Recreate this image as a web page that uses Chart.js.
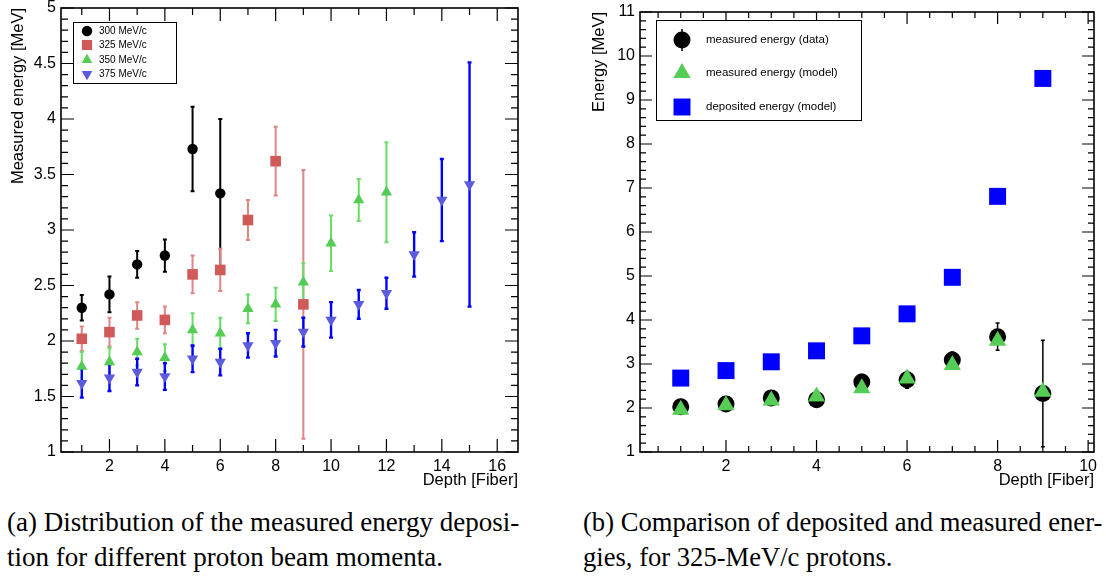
<!DOCTYPE html>
<html>
<head>
<meta charset="utf-8">
<script src="https://cdn.jsdelivr.net/npm/chart.js@4"></script>
<style>
  body { margin: 0; background: #fff; width: 1106px; height: 577px; overflow: hidden; position: relative; }
  #chartA { position: absolute; left: 0; top: 0; }
  #chartB { position: absolute; left: 560px; top: 0; }
  .cap { position: absolute; top: 505px; font-family: "Liberation Serif", "Times New Roman", serif;
         font-size: 27px; line-height: 35px; white-space: nowrap; color: #000; }
</style>
</head>
<body>
<canvas id="chartA" width="540" height="490"></canvas>
<canvas id="chartB" width="546" height="490"></canvas>
<div class="cap" style="left:7px">(a) Distribution of the measured energy deposi-<br>tion for different proton beam momenta.</div>
<div class="cap" style="left:583px;font-size:26.6px">(b) Comparison of deposited and measured ener-<br>gies, for 325-MeV/c protons.</div>
<script>
// ---- data, left panel (a) ----
const depthA = [1, 2, 3, 4, 5, 6, 7, 8, 9, 10, 11, 12, 13, 14, 15];
const labelsA = ["300 MeV/c", "325 MeV/c", "350 MeV/c", "375 MeV/c"];
const e300 = [2.30, 2.42, 2.69, 2.77, 3.73, 3.33];
const e300Err = [0.115, 0.16, 0.12, 0.145, 0.38, 0.67];
const e325 = [2.02, 2.08, 2.23, 2.19, 2.60, 2.64, 3.09, 3.62, 2.33];
const e325Err = [0.11, 0.13, 0.12, 0.12, 0.17, 0.19, 0.18, 0.31, 1.21];
const e350 = [1.77, 1.81, 1.90, 1.85, 2.10, 2.07, 2.29, 2.33, 2.53, 2.88, 3.27, 3.34];
const e350Err = [0.13, 0.13, 0.12, 0.12, 0.15, 0.14, 0.13, 0.15, 0.17, 0.25, 0.19, 0.45];
const e375 = [1.62, 1.67, 1.72, 1.68, 1.84, 1.81, 1.96, 1.98, 2.08, 2.19, 2.33, 2.43, 2.78, 3.27, 3.41];
const e375Err = [0.13, 0.12, 0.12, 0.12, 0.12, 0.12, 0.11, 0.12, 0.13, 0.16, 0.13, 0.14, 0.20, 0.37, 1.10];
const xTicksA = [2, 4, 6, 8, 10, 12, 14, 16];
const yTicksA = [1, 1.5, 2, 2.5, 3, 3.5, 4, 4.5, 5];

// ---- data, right panel (b) ----
const depthB = [1, 2, 3, 4, 5, 6, 7, 8, 9];
const labelsB = ["measured energy (data)", "measured energy (model)", "deposited energy (model)"];
const measData = [2.03, 2.09, 2.23, 2.19, 2.59, 2.64, 3.09, 3.62, 2.33];
const measDataErr = [0.11, 0.13, 0.12, 0.12, 0.17, 0.19, 0.18, 0.31, 1.21];
const measModel = [1.96, 2.06, 2.17, 2.26, 2.45, 2.67, 2.98, 3.53, 2.37];
const depModel = [2.68, 2.85, 3.05, 3.30, 3.64, 4.14, 4.97, 6.81, 9.49];
const xTicksB = [2, 4, 6, 8, 10];
const yTicksB = [1, 2, 3, 4, 5, 6, 7, 8, 9, 10, 11];

Chart.defaults.font.family = '"Liberation Sans", Arial, Helvetica, sans-serif';
Chart.defaults.color = '#000';

const pts = (xs, ys) => ys.map((v, i) => ({ x: xs[i], y: v }));

// ROOT-like frame: inward ticks on all sides, error bars, legend box
const rootFrame = {
  id: 'rootFrame',
  beforeDatasetsDraw(chart) {
    const ctx = chart.ctx, ys = chart.scales.y;
    ctx.save();
    chart.data.datasets.forEach((ds, di) => {
      if (!ds.errors) return;
      const meta = chart.getDatasetMeta(di);
      ctx.strokeStyle = ds.errColor;
      ctx.lineWidth = ds.errWidth;
      meta.data.forEach((p, i) => {
        const v = ds.data[i].y, e = ds.errors[i];
        const y1 = ys.getPixelForValue(v + e), y2 = ys.getPixelForValue(v - e);
        ctx.beginPath();
        ctx.moveTo(p.x, y1); ctx.lineTo(p.x, y2);
        ctx.moveTo(p.x - 2, y1); ctx.lineTo(p.x + 2, y1);
        ctx.moveTo(p.x - 2, y2); ctx.lineTo(p.x + 2, y2);
        ctx.stroke();
      });
    });
    ctx.restore();
  },
  afterDraw(chart, args, o) {
    const ctx = chart.ctx, a = chart.chartArea;
    const xs = chart.scales.x, ys = chart.scales.y;
    ctx.save();
    ctx.strokeStyle = '#000';
    // ticks
    const each = (sc, minor, major, cb) => {
      for (let k = Math.ceil(sc.min / minor - 1e-9); k * minor <= sc.max + 1e-9; k++) {
        const v = k * minor;
        const isMaj = Math.abs(v / major - Math.round(v / major)) < 1e-6;
        cb(sc.getPixelForValue(v), isMaj ? o.majLen : o.minLen);
      }
    };
    ctx.lineWidth = 1.2;
    ctx.beginPath();
    each(xs, o.xMinor, o.xMajor, (px, len) => {
      ctx.moveTo(px, a.bottom); ctx.lineTo(px, a.bottom - len);
      ctx.moveTo(px, a.top); ctx.lineTo(px, a.top + len);
    });
    each(ys, o.yMinor, o.yMajor, (py, len) => {
      ctx.moveTo(a.left, py); ctx.lineTo(a.left + len, py);
      ctx.moveTo(a.right, py); ctx.lineTo(a.right - len, py);
    });
    ctx.stroke();
    // frame
    ctx.lineWidth = 1.6;
    ctx.strokeRect(a.left, a.top, a.right - a.left, a.bottom - a.top);
    // legend
    const L = o.legend;
    ctx.fillStyle = '#fff';
    ctx.fillRect(L.x, L.y, L.w, L.h);
    ctx.lineWidth = 1;
    ctx.strokeStyle = '#000';
    ctx.strokeRect(L.x + 0.5, L.y + 0.5, L.w, L.h);
    ctx.font = L.font + 'px "Liberation Sans", Arial, sans-serif';
    ctx.textBaseline = 'middle';
    L.rows.forEach((ry, i) => {
      const ds = chart.data.datasets[i];
      const mx = L.x + L.markX, my = L.y + ry;
      if (ds.legendBar) {
        ctx.strokeStyle = ds.errColor; ctx.lineWidth = 1.5;
        ctx.beginPath(); ctx.moveTo(mx, my - ds.legendBar); ctx.lineTo(mx, my + ds.legendBar); ctx.stroke();
      }
      ctx.fillStyle = ds.backgroundColor;
      ctx.strokeStyle = ds.backgroundColor;
      Chart.helpers.drawPoint(ctx, { pointStyle: ds.pointStyle, rotation: ds.rotation || 0,
        radius: ds.legendRadius, borderWidth: 0 }, mx, my);
      ctx.fillStyle = '#000';
      ctx.fillText(ds.label, L.x + L.textX, my);
    });
    ctx.restore();
  }
};

function axes(xr, yr, xt, yt, yTitle, yWidth, xHeight) {
  return {
    x: {
      type: 'linear', min: xr[0], max: xr[1],
      grid: { display: false, drawTicks: false }, border: { display: false },
      afterBuildTicks: s => { s.ticks = xt.map(v => ({ value: v })); },
      afterFit: s => { s.height = xHeight; s.paddingLeft = 0; s.paddingRight = 0; },
      ticks: { padding: 5, font: { size: 16 }, maxRotation: 0, autoSkip: false, callback: v => String(v) },
      title: { display: true, text: 'Depth [Fiber]', align: 'end', font: { size: 16.5 }, padding: 0 }
    },
    y: {
      type: 'linear', min: yr[0], max: yr[1],
      grid: { display: false, drawTicks: false }, border: { display: false },
      afterBuildTicks: s => { s.ticks = yt.map(v => ({ value: v })); },
      afterFit: s => { s.width = yWidth; s.paddingTop = 0; s.paddingBottom = 0; },
      ticks: { padding: 5, font: { size: 16 }, autoSkip: false, callback: v => String(v) },
      title: { display: true, text: yTitle, align: 'end', font: { size: 16.5 }, padding: 0 }
    }
  };
}

new Chart(document.getElementById('chartA').getContext('2d'), {
  type: 'scatter',
  data: {
    datasets: [
      { label: labelsA[0], data: pts(depthA, e300), errors: e300Err, errColor: '#000', errWidth: 2,
        pointStyle: 'circle', pointRadius: 5.2, legendRadius: 5.2, backgroundColor: '#000', borderWidth: 0 },
      { label: labelsA[1], data: pts(depthA, e325), errors: e325Err, errColor: '#e08585', errWidth: 2,
        pointStyle: 'rect', pointRadius: 7.5, legendRadius: 7.2, backgroundColor: '#d05a5a', borderWidth: 0 },
      { label: labelsA[2], data: pts(depthA, e350), errors: e350Err, errColor: '#66dd66', errWidth: 2,
        pointStyle: 'triangle', pointRadius: 6.5, legendRadius: 6.2, backgroundColor: '#55cc55', borderWidth: 0 },
      { label: labelsA[3], data: pts(depthA, e375), errors: e375Err, errColor: '#0000ff', errWidth: 2.4,
        pointStyle: 'triangle', rotation: 180, pointRadius: 6.5, legendRadius: 6.2, backgroundColor: '#5b5bdf', borderWidth: 0 }
    ]
  },
  options: {
    responsive: false, animation: false,
    layout: { padding: { left: 9, top: 8, right: 22, bottom: 0 } },
    scales: axes([0.25, 16.75], [1, 5], xTicksA, yTicksA, 'Measured energy [MeV]', 52, 38),
    plugins: {
      legend: { display: false }, tooltip: { enabled: false },
      rootFrame: { xMajor: 2, xMinor: 1, yMajor: 0.5, yMinor: 0.1, majLen: 13, minLen: 7,
        legend: { x: 73, y: 22, w: 103, h: 61, markX: 14, textX: 26, font: 10, rows: [9, 23, 38, 52] } }
    }
  },
  plugins: [rootFrame]
});

new Chart(document.getElementById('chartB').getContext('2d'), {
  type: 'scatter',
  data: {
    datasets: [
      { label: labelsB[0], data: pts(depthB, measData), errors: measDataErr, errColor: '#000', errWidth: 1.5, legendBar: 11,
        order: 3, pointStyle: 'circle', pointRadius: 8.5, legendRadius: 8.5, backgroundColor: '#000', borderWidth: 0 },
      { label: labelsB[1], data: pts(depthB, measModel),
        order: 1, pointStyle: 'triangle', pointRadius: 10, legendRadius: 10, backgroundColor: '#55cc55', borderWidth: 0 },
      { label: labelsB[2], data: pts(depthB, depModel),
        order: 2, pointStyle: 'rect', pointRadius: 12, legendRadius: 12, backgroundColor: '#0000ff', borderWidth: 0 }
    ]
  },
  options: {
    responsive: false, animation: false,
    layout: { padding: { left: 30, top: 8, right: 9, bottom: 0 } },
    scales: axes([0.1, 10.13], [1, 11], xTicksB, yTicksB, 'Energy [MeV]', 50, 38),
    plugins: {
      legend: { display: false }, tooltip: { enabled: false },
      rootFrame: { xMajor: 2, xMinor: 0.5, yMajor: 1, yMinor: 0.2, majLen: 12, minLen: 6,
        legend: { x: 96, y: 20, w: 205, h: 100, markX: 26, textX: 50, font: 11.5, rows: [20, 53, 87] } }
    }
  },
  plugins: [rootFrame]
});
</script>
</body>
</html>
